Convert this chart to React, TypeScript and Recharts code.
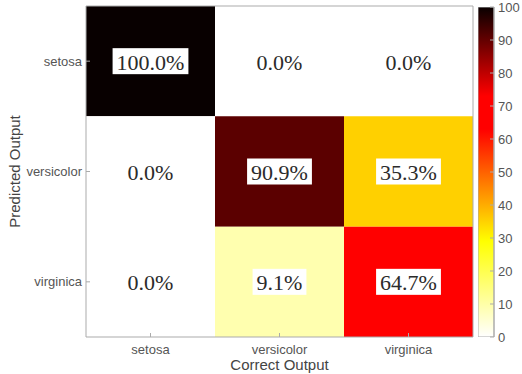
import React from 'react';
import { ComposedChart, BarChart, Bar, XAxis, YAxis, ReferenceArea, Label } from 'recharts';

// ---- data ----
const classNames = ['setosa', 'versicolor', 'virginica'];
// rows = predicted class, columns = correct class (percent)
const predictedSetosa = [100.0, 0.0, 0.0];
const predictedVersicolor = [0.0, 90.9, 35.3];
const predictedVirginica = [0.0, 9.1, 64.7];
const matrixRows = [predictedSetosa, predictedVersicolor, predictedVirginica];
const colorbarTicks = [0, 10, 20, 30, 40, 50, 60, 70, 80, 90, 100];
const xTitle = 'Correct Output';
const yTitle = 'Predicted Output';

// ---- style ----
const AXIS_COLOR = '#ababab';
const TICK_TEXT = '#555555';
const SANS = '"Liberation Sans", Arial, sans-serif';
const SERIF = '"Liberation Serif", "Times New Roman", serif';
const CELL_FONT = 22;

// reversed "hot" colormap
const CMAP: [number, number[]][] = [
  [0, [255, 255, 255]],
  [29, [255, 255, 0]],
  [63, [255, 0, 0]],
  [73, [255, 0, 0]],
  [100, [8, 0, 0]],
];
function cmapRgb(v: number): number[] {
  for (let i = 0; i < CMAP.length - 1; i++) {
    const [a, ca] = CMAP[i];
    const [b, cb] = CMAP[i + 1];
    if (v <= b) {
      const t = b === a ? 0 : (v - a) / (b - a);
      return ca.map((c, k) => Math.round(c + (cb[k] - c) * t));
    }
  }
  return CMAP[CMAP.length - 1][1];
}
const cmap = (v: number) => {
  const [r, g, b] = cmapRgb(v);
  return `rgb(${r},${g},${b})`;
};

const glyphEm: Record<string, number> = { '.': 0.25, '%': 0.833 };
const textWidth = (s: string, size: number) =>
  s.split('').reduce((w, ch) => w + (glyphEm[ch] ?? 0.5), 0) * size;

const n = classNames.length;
const centers = classNames.map((_, i) => i + 0.5);
const nameAt = (v: number) => classNames[Math.floor(v)] ?? '';

const cells = matrixRows.flatMap((row, r) =>
  row.map((value, c) => ({ r, c, value }))
);

const colorbarData = [{ name: 'scale', top: colorbarTicks[colorbarTicks.length - 1] }];

const renderCellLabel = (props: any, value: number) => {
  const vb = props.viewBox || {};
  const { x, y, width, height } = vb;
  const text = `${value.toFixed(1)}%`;
  const w = textWidth(text, CELL_FONT) + 8;
  const h = 26;
  const cx = x + width / 2;
  const cy = y + height / 2;
  return (
    <g>
      <rect x={cx - w / 2} y={cy - h / 2} width={w} height={h} fill="#ffffff" />
      <text
        x={cx}
        y={cy + 1}
        textAnchor="middle"
        dominantBaseline="central"
        fontFamily={SERIF}
        fontSize={CELL_FONT}
        fill="#2b2b2b"
      >
        {text}
      </text>
    </g>
  );
};

const ColorbarShape = (props: any) => {
  const { x, y, width, height } = props;
  const stops = [...CMAP].reverse();
  return (
    <g>
      <defs>
        <linearGradient id="hotGrad" x1="0" y1="0" x2="0" y2="1">
          {stops.map(([v], i) => (
            <stop key={i} offset={`${100 - v}%`} stopColor={cmap(v)} />
          ))}
        </linearGradient>
      </defs>
      <rect x={x} y={y} width={width} height={height} fill="url(#hotGrad)" stroke={AXIS_COLOR} />
    </g>
  );
};

export default function App() {
  return (
    <div style={{ position: 'absolute', left: 0, top: 0, width: 522, height: 374, background: '#ffffff' }}>
      <div style={{ position: 'absolute', left: 0, top: 0 }}>
        <ComposedChart width={522} height={374} margin={{ top: 5, right: 48, bottom: 0, left: 6 }}>
          <XAxis
            type="number"
            dataKey="x"
            domain={[0, n]}
            ticks={centers}
            interval={0}
            allowDataOverflow
            tickFormatter={nameAt}
            height={37}
            tickSize={-4}
            tickMargin={12}
            stroke={AXIS_COLOR}
            tick={{ fill: TICK_TEXT, fontSize: 13, fontFamily: SANS }}
          >
            <Label
              value={xTitle}
              position="insideBottom"
              offset={4}
              fill="#444444"
              fontSize={15}
              fontFamily={SANS}
            />
          </XAxis>
          <XAxis
            xAxisId="top"
            orientation="top"
            type="number"
            domain={[0, n]}
            ticks={centers}
            interval={0}
            allowDataOverflow
            height={1}
            tick={false}
            tickSize={-4}
            stroke={AXIS_COLOR}
          />
          <YAxis
            type="number"
            dataKey="y"
            domain={[0, n]}
            reversed
            ticks={centers}
            interval={0}
            allowDataOverflow
            tickFormatter={nameAt}
            width={80}
            tickSize={-4}
            tickMargin={8}
            stroke={AXIS_COLOR}
            tick={{ fill: TICK_TEXT, fontSize: 13, fontFamily: SANS }}
          >
            <Label
              content={(p: any) => {
                const vb = p.viewBox || {};
                const lx = vb.x + 8;
                const ly = vb.y + vb.height / 2;
                return (
                  <text
                    x={lx}
                    y={ly}
                    transform={`rotate(-90 ${lx} ${ly})`}
                    textAnchor="middle"
                    dominantBaseline="central"
                    fill="#444444"
                    fontSize={15}
                    fontFamily={SANS}
                  >
                    {yTitle}
                  </text>
                );
              }}
            />
          </YAxis>
          <YAxis
            yAxisId="right"
            orientation="right"
            type="number"
            domain={[0, n]}
            reversed
            ticks={centers}
            interval={0}
            allowDataOverflow
            width={1}
            tick={false}
            tickSize={-4}
            stroke={AXIS_COLOR}
          />
          {cells.map((cell) => (
            <ReferenceArea
              key={`${cell.r}-${cell.c}`}
              x1={cell.c}
              x2={cell.c + 1}
              y1={cell.r}
              y2={cell.r + 1}
              fill={cmap(cell.value)}
              fillOpacity={1}
              stroke="none"
              ifOverflow="visible"
              label={(p: any) => renderCellLabel(p, cell.value)}
            />
          ))}
        </ComposedChart>
      </div>
      <div style={{ position: 'absolute', left: 478, top: 0 }}>
        <BarChart
          width={44}
          height={374}
          data={colorbarData}
          margin={{ top: 7, right: 0, bottom: 37, left: 0 }}
          barCategoryGap={0}
        >
          <XAxis dataKey="name" type="category" hide />
          <YAxis
            orientation="right"
            type="number"
            domain={[colorbarTicks[0], colorbarTicks[colorbarTicks.length - 1]]}
            ticks={colorbarTicks}
            interval={0}
            allowDataOverflow
            width={28}
            tickSize={-4}
            tickMargin={8}
            stroke={AXIS_COLOR}
            tick={{ fill: TICK_TEXT, fontSize: 13, fontFamily: SANS }}
          />
          <Bar dataKey="top" isAnimationActive={false} shape={<ColorbarShape />} />
        </BarChart>
      </div>
    </div>
  );
}
